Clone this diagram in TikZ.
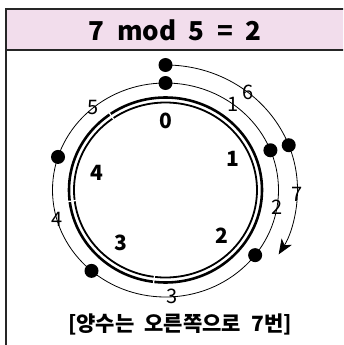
\documentclass[tikz,border=0pt]{standalone}
\usepackage{fontspec}
\setmainfont{Noto Sans CJK KR}
\newfontfamily\widefont[WordSpace=2.6]{Noto Sans CJK KR}
\newfontfamily\titlefont[WordSpace=2.1]{Noto Sans CJK KR}
\usetikzlibrary{arrows.meta}
\definecolor{headpink}{RGB}{242,221,236}

\begin{document}
\begin{tikzpicture}[x=1pt, y=-1pt,
    dot/.style={circle, fill=black, inner sep=0pt, minimum size=14pt},
    resnum/.style={font=\fontsize{21}{21}\selectfont\bfseries, inner sep=0pt},
    stepnum/.style={font=\fontsize{20}{20}\selectfont, inner sep=0pt}]
  \useasboundingbox (0,0) rectangle (343,345);
  \clip (0,0) rectangle (343,345);
  % frame and title bar
  \fill[headpink] (6,9) rectangle (352,50);
  \draw[line width=1.6pt, black!85] (6,9) rectangle (352,360);
  \draw[line width=1.4pt, black!85] (6,50) -- (352,50);
  \node[font=\titlefont\fontsize{26}{26}\selectfont\bfseries] (title) at (175,30) {7 mod 5 = 2};

  \coordinate (c) at (165.5,190);
  % residue ring
  \draw[line width=2.6pt] (c) ellipse [x radius=96.5pt, y radius=92.5pt];
  \draw[line width=1.8pt] (c) ellipse [x radius=91.5pt, y radius=87.5pt];
  \foreach \a in {125,187,263}
    \draw[white, line width=1.2pt] ([shift={(c)}]\a:88pt and 84pt) -- ([shift={(c)}]\a:100pt and 96pt);
  \node[resnum] (r0) at (166,121) {0};
  \node[resnum] (r1) at (233,159) {1};
  \node[resnum] (r2) at (222,236) {2};
  \node[resnum] (r3) at (121,243) {3};
  \node[resnum] (r4) at (97,173) {4};

  % steps
  \draw[line width=0.8pt] (c) ellipse [x radius=113pt, y radius=107pt];
  \draw[line width=0.8pt, -{Stealth[length=15pt, width=12pt, inset=4pt]}] ([shift={(c)}]90:132pt and 125pt)
    arc[start angle=90, end angle=-31, x radius=132pt, y radius=125pt];
  \foreach \a [count=\i] in {90,21.8,-37.5,-130.9,162}
    \node[dot] (m\i) at ([shift={(c)}]\a:113pt and 107pt) {};
  \node[dot] (o1) at ([shift={(c)}]90:132pt and 125pt) {};
  \node[dot] (o2) at ([shift={(c)}]21:132pt and 125pt) {};
  \foreach \a/\t in {53.6/1,-9/2,-86.7/3,195.8/4,129.8/5}
    \node[stepnum] (s\t) at ([shift={(c)}]\a:113pt and 107pt) {\t};
  \node[stepnum] (s6) at ([shift={(c)}]51.5:132pt and 125pt) {6};
  \node[stepnum] (s7) at ([shift={(c)}]-2:132pt and 125pt) {7};

  \node[font=\widefont\fontsize{21}{21}\selectfont\bfseries] (note) at (180,324) {[양수는 오른쪽으로 7번]};
\end{tikzpicture}
\end{document}
